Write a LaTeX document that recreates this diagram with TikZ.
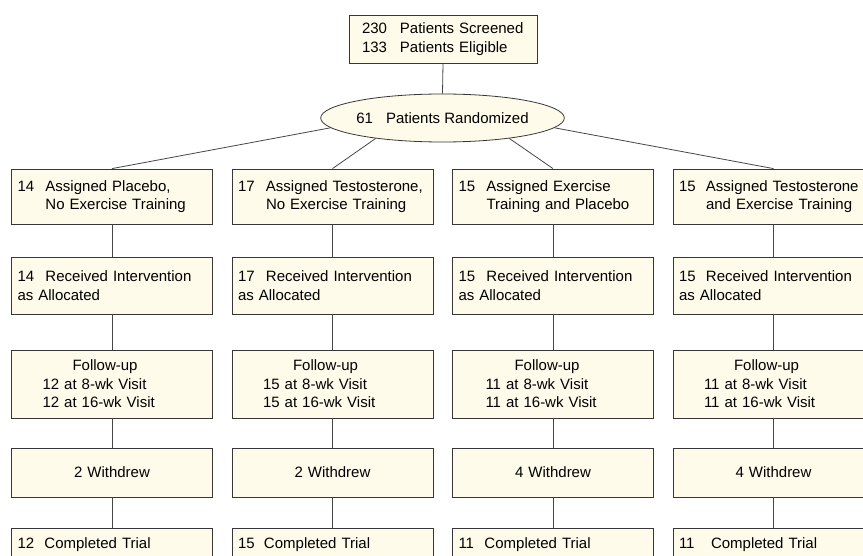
\documentclass[tikz,border=0pt]{standalone}
\usepackage{fontspec}
\setmainfont{Liberation Sans}
\usetikzlibrary{shapes.geometric}
\definecolor{cream}{RGB}{254,251,234}
\definecolor{edge}{RGB}{55,55,55}
\definecolor{conncol}{RGB}{70,70,70}
\newcommand{\numb}[2][28pt]{\makebox[#1][l]{#2}}
\begin{document}
\begin{tikzpicture}[x=1pt,y=-1pt,
  box/.style={draw=edge, fill=cream, line width=0.8pt, rectangle, inner xsep=6pt, inner ysep=0pt,
    text width=189pt, align=left, font=\fontsize{15}{18.5}\selectfont},
  r1/.style={box, minimum height=55pt},
  r2/.style={box, minimum height=57pt},
  r3/.style={box, minimum height=68pt},
  r4/.style={box, minimum height=49pt, align=center},
  r5/.style={box, anchor=north, text height=20pt, text depth=37pt},
  conn/.style={draw=conncol, line width=0.8pt}]
\useasboundingbox (0,0) rectangle (863,556);
\clip (0,0) rectangle (863,556);
\fill[white] (0,0) rectangle (863,556);

\node[box, minimum height=48pt, text width=162pt, inner xsep=13pt] (top) at (443,39)
  {\numb[38pt]{230}Patients Screened\\\numb[38pt]{133}Patients Eligible};
\node[draw=edge, fill=cream, line width=0.8pt, ellipse, minimum width=219pt, minimum height=48pt,
  inner sep=0pt, font=\fontsize{15}{18.5}\selectfont] (ell) at (442.5,118)
  {61\hspace{13pt}Patients Randomized};

% column 1
\node[r1] (a1) at (112,196.5) {\numb{14}Assigned Placebo,\\\hspace*{28pt}No Exercise Training};
\node[r2] (a2) at (112,285.5) {\numb{14}Received Intervention\\as Allocated};
\node[r3] (a3) at (112,384) {\hspace*{55pt}Follow-up\\\hspace*{25pt}12 at 8-wk Visit\\\hspace*{25pt}12 at 16-wk Visit};
\node[r4] (a4) at (112,472.5) {2 Withdrew};
\node[r5] (a5) at (112,528) {\numb[27pt]{12}Completed Trial};

% column 2
\node[r1] (b1) at (332.5,196.5) {\numb{17}Assigned Testosterone,\\\hspace*{28pt}No Exercise Training};
\node[r2] (b2) at (332.5,285.5) {\numb{17}Received Intervention\\as Allocated};
\node[r3] (b3) at (332.5,384) {\hspace*{55pt}Follow-up\\\hspace*{25pt}15 at 8-wk Visit\\\hspace*{25pt}15 at 16-wk Visit};
\node[r4] (b4) at (332.5,472.5) {2 Withdrew};
\node[r5] (b5) at (332.5,528) {\numb[26pt]{15}Completed Trial};

% column 3
\node[r1] (c1) at (553,196.5) {\numb{15}Assigned Exercise\\\hspace*{28pt}Training and Placebo};
\node[r2] (c2) at (553,285.5) {\numb{15}Received Intervention\\as Allocated};
\node[r3] (c3) at (553,384) {\hspace*{56pt}Follow-up\\\hspace*{27pt}11 at 8-wk Visit\\\hspace*{27pt}11 at 16-wk Visit};
\node[r4] (c4) at (553,472.5) {4 Withdrew};
\node[r5] (c5) at (553,528) {\numb[26pt]{11}Completed Trial};

% column 4
\node[r1] (d1) at (773.5,196.5) {\numb[27pt]{15}Assigned Testosterone\\\hspace*{27pt}and Exercise Training};
\node[r2] (d2) at (773.5,285.5) {\numb[27pt]{15}Received Intervention\\as Allocated};
\node[r3] (d3) at (773.5,384) {\hspace*{55pt}Follow-up\\\hspace*{25pt}11 at 8-wk Visit\\\hspace*{25pt}11 at 16-wk Visit};
\node[r4] (d4) at (773.5,472.5) {4 Withdrew};
\node[r5] (d5) at (773.5,528) {\numb[32pt]{11}Completed Trial};

% connectors
\draw[conn] (top.south) -- (ell.north);
\draw[conn] (ell.185) -- (a1.north);
\draw[conn] (ell.197) -- (b1.north);
\draw[conn] (ell.-17) -- (c1.north);
\draw[conn] (ell.-5) -- (d1.north);
\foreach \c in {a,b,c,d}{
  \draw[conn] (\c1.south) -- (\c2.north);
  \draw[conn] (\c2.south) -- (\c3.north);
  \draw[conn] (\c3.south) -- (\c4.north);
  \draw[conn] (\c4.south) -- (\c5.north);
}
\end{tikzpicture}
\end{document}
